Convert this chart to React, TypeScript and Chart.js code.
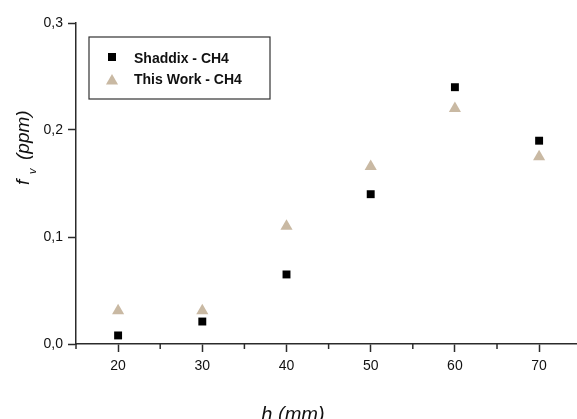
import React, { useEffect, useRef } from "react";
import { Chart, registerables } from "chart.js";

Chart.register(...registerables);

const heights = [20, 30, 40, 50, 60, 70];
const shaddixCH4 = [0.008, 0.021, 0.065, 0.14, 0.24, 0.19];
const thisWorkCH4 = [0.031, 0.031, 0.11, 0.166, 0.22, 0.175];
const seriesLabels = ["Shaddix - CH4", "This Work - CH4"];
const xMajorTicks = [20, 30, 40, 50, 60, 70];
const xMinorTicks = [15, 25, 35, 45, 55, 65];
const yTicks = [0, 0.1, 0.2, 0.3];

const FONT = "'Liberation Sans', Arial, sans-serif";
const AXIS = "#2b2b2b";
const TAN = "#c9b9a3";

const decor = {
  id: "decor",
  afterDraw(chart: any) {
    const ctx = chart.ctx;
    const xs = chart.scales.x;
    const ys = chart.scales.y;
    ctx.save();
    // minor ticks on x axis
    ctx.strokeStyle = AXIS;
    ctx.lineWidth = 1.5;
    const y0 = ys.getPixelForValue(0);
    xMinorTicks.forEach((v) => {
      const px = xs.getPixelForValue(v);
      ctx.beginPath();
      ctx.moveTo(px, y0);
      ctx.lineTo(px, y0 + 5);
      ctx.stroke();
    });
    // legend box
    const lx = 89, ly = 37, lw = 181, lh = 62;
    ctx.strokeStyle = "#333";
    ctx.lineWidth = 1.2;
    ctx.strokeRect(lx, ly, lw, lh);
    ctx.font = "bold 14px " + FONT;
    ctx.textBaseline = "middle";
    ctx.textAlign = "left";
    chart.data.datasets.forEach((ds: any, i: number) => {
      const cy = ly + 21 + i * 21;
      const cx = lx + 23;
      ctx.fillStyle = ds.backgroundColor;
      ctx.beginPath();
      if (ds.pointStyle === "rect") {
        ctx.rect(cx - 4, cy - 5, 8, 8);
      } else {
        const r = 7;
        ctx.moveTo(cx, cy + 2 - r);
        ctx.lineTo(cx + r * 0.866, cy + 2 + r / 2);
        ctx.lineTo(cx - r * 0.866, cy + 2 + r / 2);
        ctx.closePath();
      }
      ctx.fill();
      ctx.fillStyle = "#111";
      ctx.fillText(ds.label, lx + 45, cy + 1);
    });
    // y title with subscript
    ctx.save();
    ctx.translate(29, 185);
    ctx.rotate(-Math.PI / 2);
    ctx.textBaseline = "alphabetic";
    ctx.textAlign = "left";
    ctx.fillStyle = "#111";
    ctx.font = "italic 19px " + FONT;
    ctx.fillText("f", 0, 0);
    ctx.font = "italic 11px " + FONT;
    ctx.fillText("v", 11, 6.5);
    ctx.font = "italic 19px " + FONT;
    ctx.fillText("(ppm)", 25, 0);
    ctx.restore();
    // x title
    ctx.font = "italic 20px " + FONT;
    ctx.textAlign = "center";
    ctx.textBaseline = "alphabetic";
    ctx.fillStyle = "#111";
    ctx.fillText("h (mm)", 293, 421);
    ctx.restore();
  },
};

export default function App() {
  const ref = useRef<HTMLCanvasElement>(null);
  useEffect(() => {
    if (!ref.current) return;
    const chart = new Chart(ref.current, {
      type: "scatter",
      data: {
        datasets: [
          {
            label: seriesLabels[0],
            data: heights.map((h, i) => ({ x: h, y: shaddixCH4[i] })),
            pointStyle: "rect",
            pointRadius: 5.6,
            backgroundColor: "#000",
            borderColor: "#000",
            borderWidth: 0,
          },
          {
            label: seriesLabels[1],
            data: heights.map((h, i) => ({ x: h, y: thisWorkCH4[i] })),
            pointStyle: "triangle",
            pointRadius: 7,
            backgroundColor: TAN,
            borderColor: TAN,
            borderWidth: 0,
          },
        ],
      },
      options: {
        animation: false,
        responsive: false,
        layout: { autoPadding: false, padding: { top: 23, right: 0, left: 0, bottom: 0 } },
        plugins: { legend: { display: false }, tooltip: { enabled: false } },
        scales: {
          x: {
            type: "linear",
            min: 15,
            max: 74.5,
            afterBuildTicks: (s: any) => {
              s.ticks = xMajorTicks.map((v) => ({ value: v }));
            },
            afterFit: (s: any) => {
              s.height = 75;
              s.paddingLeft = 0;
              s.paddingRight = 0;
            },
            ticks: {
              font: { family: FONT, size: 14 },
              color: "#111",
              padding: 6,
              maxRotation: 0,
            },
            grid: {
              drawOnChartArea: false,
              drawTicks: true,
              tickLength: 8,
              tickColor: AXIS,
              tickWidth: 1.5,
            },
            border: { display: true, color: AXIS, width: 1.5 },
          },
          y: {
            type: "linear",
            min: 0,
            max: 0.3,
            afterBuildTicks: (s: any) => {
              s.ticks = yTicks.map((v) => ({ value: v }));
            },
            afterFit: (s: any) => {
              s.width = 76;
              s.paddingTop = 0;
              s.paddingBottom = 0;
            },
            ticks: {
              font: { family: FONT, size: 14 },
              color: "#111",
              padding: 5,
              callback: (v: any) => Number(v).toFixed(1).replace(".", ","),
            },
            grid: {
              drawOnChartArea: false,
              drawTicks: true,
              tickLength: 8,
              tickColor: AXIS,
              tickWidth: 1.5,
            },
            border: { display: true, color: AXIS, width: 1.5 },
          },
        },
      },
      plugins: [decor],
    } as any);
    return () => chart.destroy();
  }, []);
  return (
    <div style={{ position: "fixed", left: 0, top: 0, width: 577, height: 419, background: "#fff" }}>
      <canvas ref={ref} width={577} height={419} style={{ width: 577, height: 419 }} />
    </div>
  );
}
